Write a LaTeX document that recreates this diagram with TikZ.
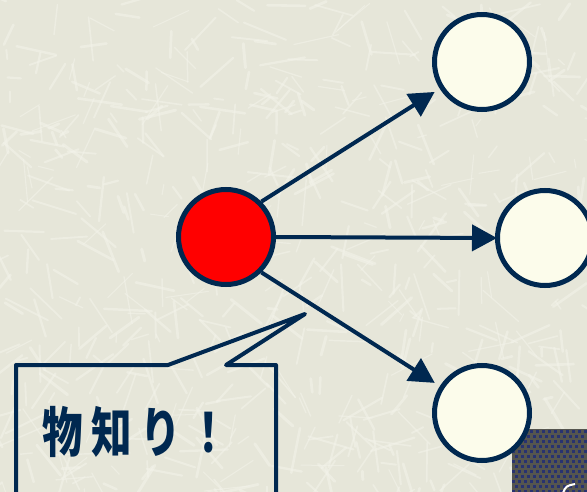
\documentclass[tikz,border=0pt]{standalone}
\usepackage{fontspec}
\newfontfamily\jp{Noto Sans CJK JP}
\usetikzlibrary{arrows.meta}
\definecolor{navy}{HTML}{002850}
\definecolor{cream}{HTML}{FCFCEB}
\definecolor{paper}{HTML}{E6E6D9}
\definecolor{streak}{HTML}{F3F3EA}
\definecolor{darkbase}{HTML}{55554F}
\definecolor{darksq}{HTML}{283270}
\tikzset{
  ball/.style={circle,draw=navy,line width=5pt,minimum size=95pt,inner sep=0pt},
  arr/.style={draw=navy,line width=4pt,-{Triangle[length=25pt,width=26pt]}},
  callout/.style={draw=navy,line width=4pt,line join=round},
  label/.style={text=navy,inner sep=0pt,font=\jp\bfseries\fontsize{54}{54}\selectfont}
}
\begin{document}
\begin{tikzpicture}[x=1pt,y=-1pt]
\useasboundingbox (0,0) rectangle (587,492);
\fill[paper] (0,0) rectangle (587,492);
\begin{scope}
\clip (0,0) rectangle (587,492);
\pgfmathsetseed{11}
\foreach \i in {1,...,650}{
  \pgfmathsetmacro\xx{rnd*600-6}
  \pgfmathsetmacro\yy{rnd*500-4}
  \pgfmathsetmacro\an{rnd*180}
  \pgfmathsetmacro\ln{8+rnd*40}
  \pgfmathsetmacro\wd{1+rnd*2}
  \draw[streak,line width=\wd pt,opacity=0.55,line cap=round] (\xx,\yy) -- ++(\an:\ln);
}
\end{scope}
% dark box
\begin{scope}
\clip (512,429) rectangle (587,492);
\fill[darkbase] (512,429) rectangle (587,492);
\foreach \r in {0,...,13}{
  \foreach \c in {0,...,13}{
    \pgfmathsetmacro\sx{512+\c*6+mod(\r,2)*3}
    \pgfmathsetmacro\sy{430+\r*5}
    \fill[darksq] (\sx,\sy) rectangle ++(3,3);
  }
}
\draw[white,line width=2pt] (563,493) .. controls (566,486) .. (575,484);
\end{scope}
% nodes
\node[ball,fill=red] (hub) at (226,237) {};
\node[ball,fill=cream] (t) at (482,62) {};
\node[ball,fill=cream] (m) at (545,238) {};
\node[ball,fill=cream] (b) at (482,413) {};
\draw[arr,shorten >=6pt] (hub.45) -- (t);
\draw[arr,shorten >=-2pt] (hub.east) -- (m.west);
\draw[arr,shorten >=6pt] (hub.-45) -- (b);
% callout
\draw[callout] (16,510) -- (16,365) -- (168,365) -- (305,314) -- (226,365) -- (276,365) -- (276,510);
\node[label] (lbl) at (136,432) {\scalebox{0.75}[1]{物\kern11pt 知\kern11pt り\kern11pt ！}};
\end{tikzpicture}
\end{document}
